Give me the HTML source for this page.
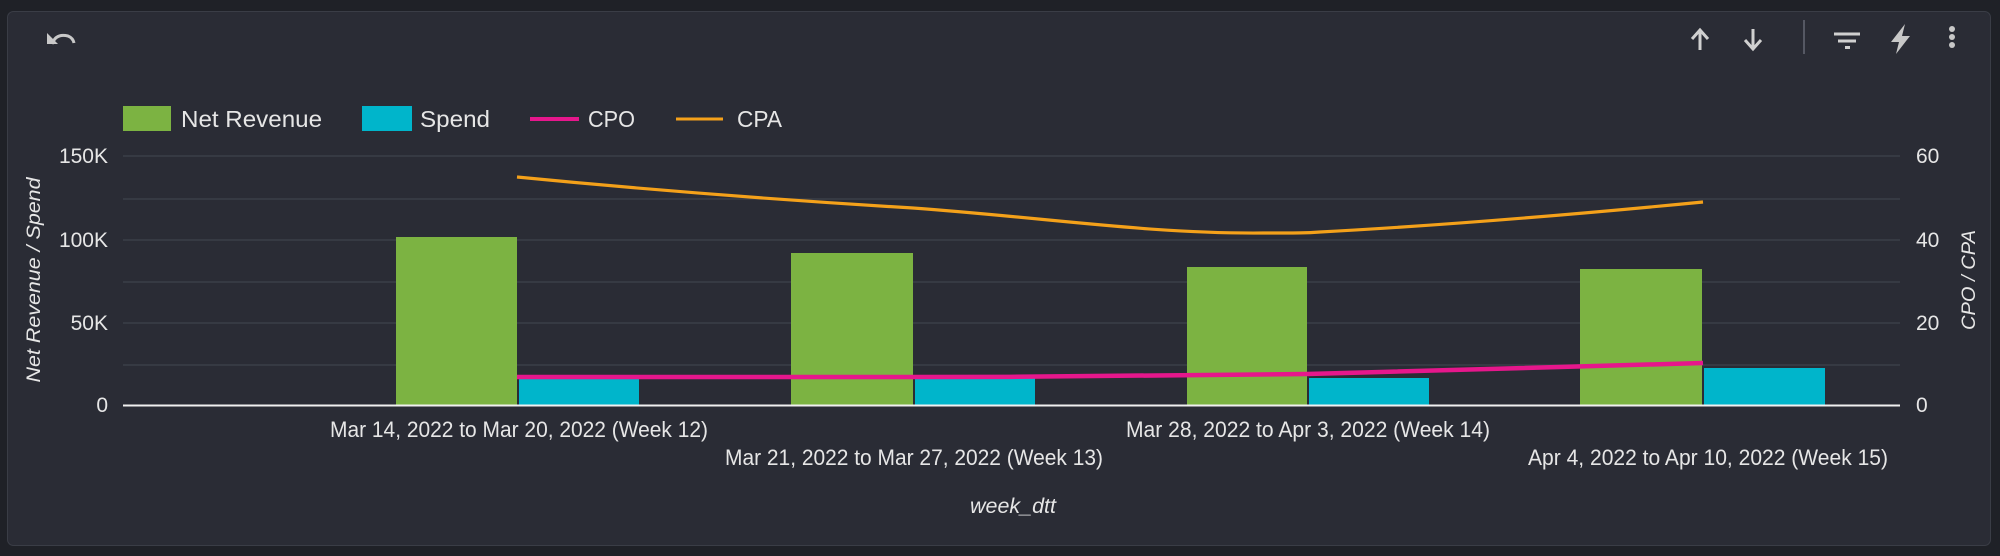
<!DOCTYPE html>
<html><head><meta charset="utf-8"><style>
html,body{margin:0;padding:0;background:#1f2127;width:2000px;height:556px;overflow:hidden}
svg{display:block}
text{font-family:"Liberation Sans",sans-serif;fill:#e6e6e6}
</style></head><body>
<svg width="2000" height="556" viewBox="0 0 2000 556">
<rect x="0" y="0" width="2000" height="556" fill="#1f2127"/>
<rect x="7.5" y="11.5" width="1983" height="534" rx="6" fill="#2a2c35" stroke="#3a3d46" stroke-width="1"/>
<!-- undo icon -->
<path d="M52 44 Q56 33 68 36 Q73 38 74 43" fill="none" stroke="#c8c8c8" stroke-width="3"/>
<path d="M47 33 L47 44 L58 44 Z" fill="#c8c8c8"/>
<!-- toolbar icons -->
<g stroke="#d0d0d0" stroke-width="3" fill="none">
<path d="M1700 50 V30 M1692 39 L1700 30 L1708 39"/>
<path d="M1753 29 V49 M1745 40 L1753 49 L1761 40"/>
<path d="M1834 34 H1860 M1838 41 H1856"/>
</g>
<rect x="1845" y="46" width="5" height="3" fill="#d0d0d0"/>
<line x1="1804" y1="20" x2="1804" y2="54" stroke="#555863" stroke-width="2"/>
<path d="M1905 24 L1891 42 L1899 42 L1896 54 L1910 36 L1902 36 Z" fill="#c8c8c8"/>
<circle cx="1952" cy="29" r="3" fill="#c8c8c8"/><circle cx="1952" cy="37" r="3" fill="#c8c8c8"/><circle cx="1952" cy="45" r="3" fill="#c8c8c8"/>
<!-- legend -->
<rect x="123" y="106" width="48" height="25" fill="#7cb342"/>
<text x="181" y="127" font-size="23" textLength="141" lengthAdjust="spacingAndGlyphs">Net Revenue</text>
<rect x="362" y="106" width="50" height="25" fill="#00b5cb"/>
<text x="420" y="127" font-size="23" textLength="70" lengthAdjust="spacingAndGlyphs">Spend</text>
<line x1="530" y1="119" x2="579" y2="119" stroke="#e6178c" stroke-width="4"/>
<text x="588" y="127" font-size="23" textLength="47" lengthAdjust="spacingAndGlyphs">CPO</text>
<line x1="676" y1="119" x2="723" y2="119" stroke="#f4a11a" stroke-width="3"/>
<text x="737" y="127" font-size="23" textLength="45" lengthAdjust="spacingAndGlyphs">CPA</text>
<!-- gridlines -->
<g stroke="#3b3e48" stroke-width="1.5">
<line x1="123" y1="156" x2="1900" y2="156"/>
<line x1="123" y1="199" x2="1900" y2="199"/>
<line x1="123" y1="240" x2="1900" y2="240"/>
<line x1="123" y1="282" x2="1900" y2="282"/>
<line x1="123" y1="323" x2="1900" y2="323"/>
<line x1="123" y1="365" x2="1900" y2="365"/>
</g>
<!-- y left labels -->
<g font-size="21" text-anchor="end">
<text x="108" y="163">150K</text>
<text x="108" y="247">100K</text>
<text x="108" y="330">50K</text>
<text x="108" y="412">0</text>
</g>
<g font-size="21">
<text x="1916" y="163">60</text>
<text x="1916" y="247">40</text>
<text x="1916" y="330">20</text>
<text x="1916" y="412">0</text>
</g>
<text transform="translate(40,280) rotate(-90)" font-size="19" font-style="italic" text-anchor="middle" textLength="205" lengthAdjust="spacingAndGlyphs">Net Revenue / Spend</text>
<text transform="translate(1975,280) rotate(-90)" font-size="19" font-style="italic" text-anchor="middle" textLength="100" lengthAdjust="spacingAndGlyphs">CPO / CPA</text>
<!-- bars -->
<g fill="#7cb342">
<rect x="396" y="237" width="121" height="168"/>
<rect x="791" y="253" width="122" height="152"/>
<rect x="1187" y="267" width="120" height="138"/>
<rect x="1580" y="269" width="122" height="136"/>
</g>
<g fill="#00b5cb">
<rect x="519" y="379" width="120" height="26"/>
<rect x="915" y="378" width="120" height="27"/>
<rect x="1309" y="378" width="120" height="27"/>
<rect x="1704" y="368" width="121" height="37"/>
</g>
<line x1="123" y1="405.5" x2="1900" y2="405.5" stroke="#f0f0f0" stroke-width="2"/>
<!-- lines -->
<path d="M517 177 C650 190 780 200 913 208 C1050 218 1150 234 1263 233 C1300 233 1307 233 1320 232 C1450 225 1600 212 1703 202" fill="none" stroke="#f4a11a" stroke-width="3.2"/>
<path d="M517 377 C650 377 780 377 913 377 C1050 377 1200 376 1307 374 C1450 370 1600 366 1703 363" fill="none" stroke="#e6178c" stroke-width="4.5"/>
<!-- x labels -->
<g font-size="22" text-anchor="middle">
<text x="519" y="437" textLength="378" lengthAdjust="spacingAndGlyphs">Mar 14, 2022 to Mar 20, 2022 (Week 12)</text>
<text x="914" y="465" textLength="378" lengthAdjust="spacingAndGlyphs">Mar 21, 2022 to Mar 27, 2022 (Week 13)</text>
<text x="1308" y="437" textLength="364" lengthAdjust="spacingAndGlyphs">Mar 28, 2022 to Apr 3, 2022 (Week 14)</text>
<text x="1708" y="465" textLength="360" lengthAdjust="spacingAndGlyphs">Apr 4, 2022 to Apr 10, 2022 (Week 15)</text>
</g>
<text x="1013" y="513" font-size="21" font-style="italic" text-anchor="middle" textLength="86" lengthAdjust="spacingAndGlyphs">week_dtt</text>
</svg>
</body></html>
